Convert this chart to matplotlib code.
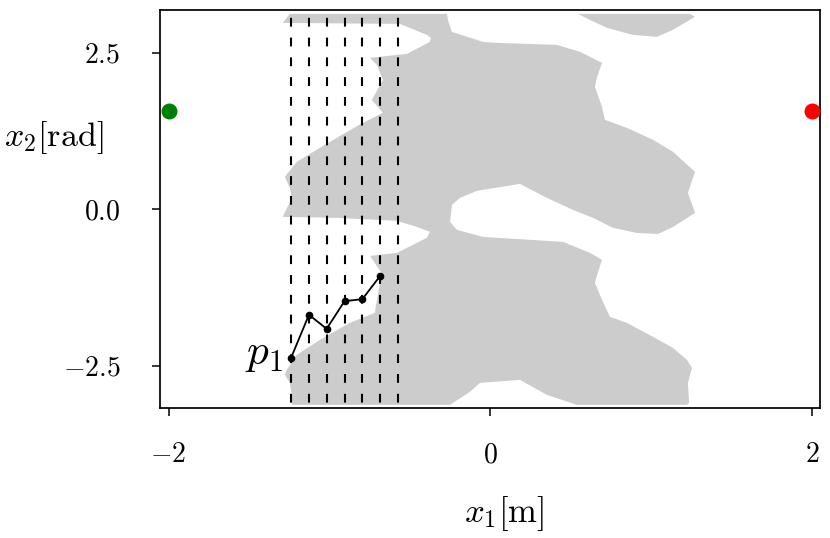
import numpy as np
import matplotlib
matplotlib.use("Agg")
import matplotlib.pyplot as plt

plt.rcParams['font.family'] = ['serif']
plt.rcParams['font.serif'] = ['cmr10', 'DejaVu Serif']
plt.rcParams['mathtext.fontset'] = 'cm'
plt.rcParams['axes.unicode_minus'] = True

# ---------------- data ----------------
# main obstacle region (configuration-space), outline
obst_x = [-1.246, -0.269, -0.263, -0.238, -0.045, 0.042, 0.415, 0.558, 0.695, 0.664,
          0.651, 0.695, 0.713, 0.850, 1.012, 1.136, 1.273, 1.229, 1.273, 1.136,
          1.043, 0.912, 0.763, 0.639, 0.514, 0.352, 0.185, -0.083, -0.188, -0.238,
          -0.250, -0.207, -0.045, 0.452, 0.620, 0.695, 0.664, 0.651, 0.695, 0.744,
          0.850, 1.012, 1.136, 1.223, 1.254, 1.229, 1.236, 1.223, 0.539, 0.352,
          0.185, -0.064, -0.126, -0.232, -0.250, -1.233, -1.233, -1.246, -1.277, -1.265,
          -1.202, -1.059, -0.873, -0.718, -0.686, -0.667, -0.748, -0.580, -0.394, -0.375,
          -0.456, -0.580, -0.954, -1.290, -1.233, -1.246, -1.277, -1.202, -1.059, -0.954,
          -0.792, -0.667, -0.736, -0.667, -0.705, -0.748, -0.518, -0.375, -0.369, -0.394,
          -0.562, -1.290]
obst_y = [3.118, 3.118, 3.022, 2.830, 2.671, 2.655, 2.623, 2.512, 2.336, 2.112,
          1.953, 1.633, 1.426, 1.298, 1.107, 0.915, 0.596, 0.259, -0.060, -0.284,
          -0.396, -0.380, -0.299, -0.139, -0.011, 0.180, 0.404, 0.292, 0.180, 0.069,
          -0.203, -0.331, -0.443, -0.522, -0.698, -0.810, -1.050, -1.177, -1.448, -1.720,
          -1.816, -2.039, -2.215, -2.407, -2.534, -2.774, -3.093, -3.125, -3.125, -2.965,
          -2.726, -2.774, -2.917, -3.093, -3.125, -3.125, -2.965, -2.774, -2.646, -2.566,
          -2.327, -2.087, -1.816, -1.656, -1.177, -1.050, -0.746, -0.698, -0.458, -0.362,
          -0.283, -0.187, -0.139, -0.123, 0.180, 0.340, 0.516, 0.755, 0.979, 1.139,
          1.378, 1.537, 1.745, 2.064, 2.304, 2.416, 2.480, 2.671, 2.735, 2.783,
          2.958, 2.974]
# small obstacle piece at top right
blob_x = [0.545, 0.620, 0.726, 0.887, 1.036, 1.136, 1.273, 1.242]
blob_y = [3.118, 3.022, 2.894, 2.783, 2.751, 2.863, 3.071, 3.118]

# sampling columns (dashed lines)
columns_x = [-1.239, -1.127, -1.017, -0.906, -0.795, -0.684, -0.572]
# path p1
path_x = [-1.239, -1.127, -1.017, -0.906, -0.795, -0.684]
path_y = [-2.379, -1.687, -1.911, -1.469, -1.437, -1.065]
# start / goal
start = (-2.0, np.pi / 2)
goal = (2.0, np.pi / 2)

xticks = [-2, 0, 2]
xticklabels = [r'$-2$', r'$0$', r'$2$']
yticks = [-2.5, 0.0, 2.5]
yticklabels = [r'$-2.5$', r'$0.0$', r'$2.5$']

# ---------------- figure ----------------
fig = plt.figure(figsize=(8.3, 5.38), dpi=100)
ax = fig.add_axes([160 / 830, 1 - 408 / 538, 660 / 830, 398 / 538])

ax.fill(obst_x, obst_y, color='#cccccc', lw=0, zorder=1)
ax.fill(blob_x, blob_y, color='#cccccc', lw=0, zorder=1)

for cx in columns_x:
    ax.plot([cx, cx], [np.pi, -np.pi], color='black', lw=1.5,
            linestyle=(6.72, (4.22, 5.28)), zorder=2)

ax.plot(path_x, path_y, color='black', lw=1.3, marker='o', ms=4.5, zorder=3)
ax.text(path_x[0] - 0.05, path_y[0] + 0.05, r'$p_1$', fontsize=31,
        ha='right', va='center', zorder=4)

ax.plot([start[0]], [start[1]], 'o', color='green', ms=10.5, zorder=5, clip_on=False)
ax.plot([goal[0]], [goal[1]], 'o', color='red', ms=10.5, zorder=5, clip_on=False)

ax.set_xlim(-2.053, 2.050)
ax.set_ylim(-3.175, 3.18)

ax.set_xticks(xticks)
ax.set_xticklabels(xticklabels)
ax.set_yticks(yticks)
ax.set_yticklabels(yticklabels)
ax.tick_params(axis='both', labelsize=20, length=5.5, width=1.1)
ax.tick_params(axis='y', pad=23)
ax.tick_params(axis='x', pad=19)
for s in ax.spines.values():
    s.set_linewidth(1.25)

ax.set_xlabel(r'$x_1[\mathrm{m}]$', fontsize=25)
ax.xaxis.set_label_coords(0.522, -0.265)
ax.xaxis.label.set_va('center')
ax.set_ylabel(r'$x_2[\mathrm{rad}]$', fontsize=24.5, rotation=0)
ax.yaxis.set_label_coords(-0.086, 0.68)
ax.yaxis.label.set_ha('right')
ax.yaxis.label.set_va('center')

fig.savefig('out.png', dpi=100)
